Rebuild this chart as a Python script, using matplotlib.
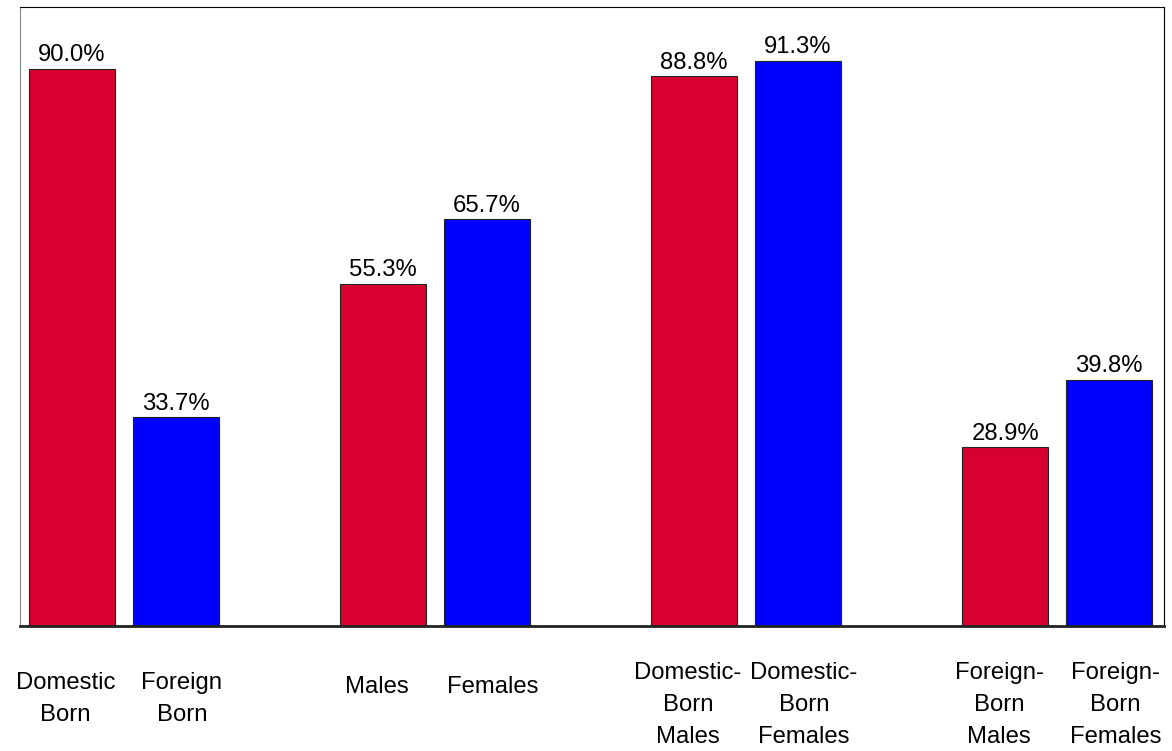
import numpy as np
import matplotlib.pyplot as plt

plt.rcParams['font.family'] = ['Liberation Sans', 'DejaVu Sans']

labels = ['Domestic\nBorn', 'Foreign\nBorn', 'Males', 'Females',
          'Domestic-\nBorn\nMales', 'Domestic-\nBorn\nFemales',
          'Foreign-\nBorn\nMales', 'Foreign-\nBorn\nFemales']
values = [90.0, 33.7, 55.3, 65.7, 88.8, 91.3, 28.9, 39.8]
groups = [0, 0, 1, 1, 2, 2, 3, 3]

red = '#D7002E'
blue = '#0000FF'
colors = [red if i % 2 == 0 else blue for i in range(len(values))]

# pairs of bars with one empty slot between groups
x = np.array([g * 3 + (i % 2) for i, g in enumerate(groups)], dtype=float)

fig = plt.figure(figsize=(11.72, 7.51), dpi=100)
ax = fig.add_axes([20/1172, 125/751, 1144/1172, 619/751])

ax.bar(x, values, width=0.83, color=colors, edgecolor='#222222', linewidth=0.8)
for xi, v in zip(x, values):
    ax.text(xi, v + 0.4, f'{v:.1f}%', ha='center', va='bottom', fontsize=17.2)

# labels drift a little away from the centre of each pair
for i, (xi, lab) in enumerate(zip(x, labels)):
    nlines = lab.count('\n') + 1
    ytop = {1: -8.1, 2: -7.4, 3: -5.8}[nlines]
    shift = -0.06 if i % 2 == 0 else 0.06
    ax.text(xi + shift, ytop, lab, ha='center', va='top', fontsize=17.2,
            linespacing=1.6, clip_on=False)

ax.set_xlim(-0.5, 10.53)
ax.set_ylim(0, 100)
ax.set_xticks([])
ax.set_yticks([])
ax.spines['left'].set_color('#888888')
ax.spines['left'].set_linewidth(0.8)
ax.spines['top'].set_linewidth(0.8)
ax.spines['right'].set_linewidth(0.8)
ax.spines['bottom'].set_linewidth(2)
ax.spines['bottom'].set_color('#222222')

fig.savefig('out.png', dpi=100)
